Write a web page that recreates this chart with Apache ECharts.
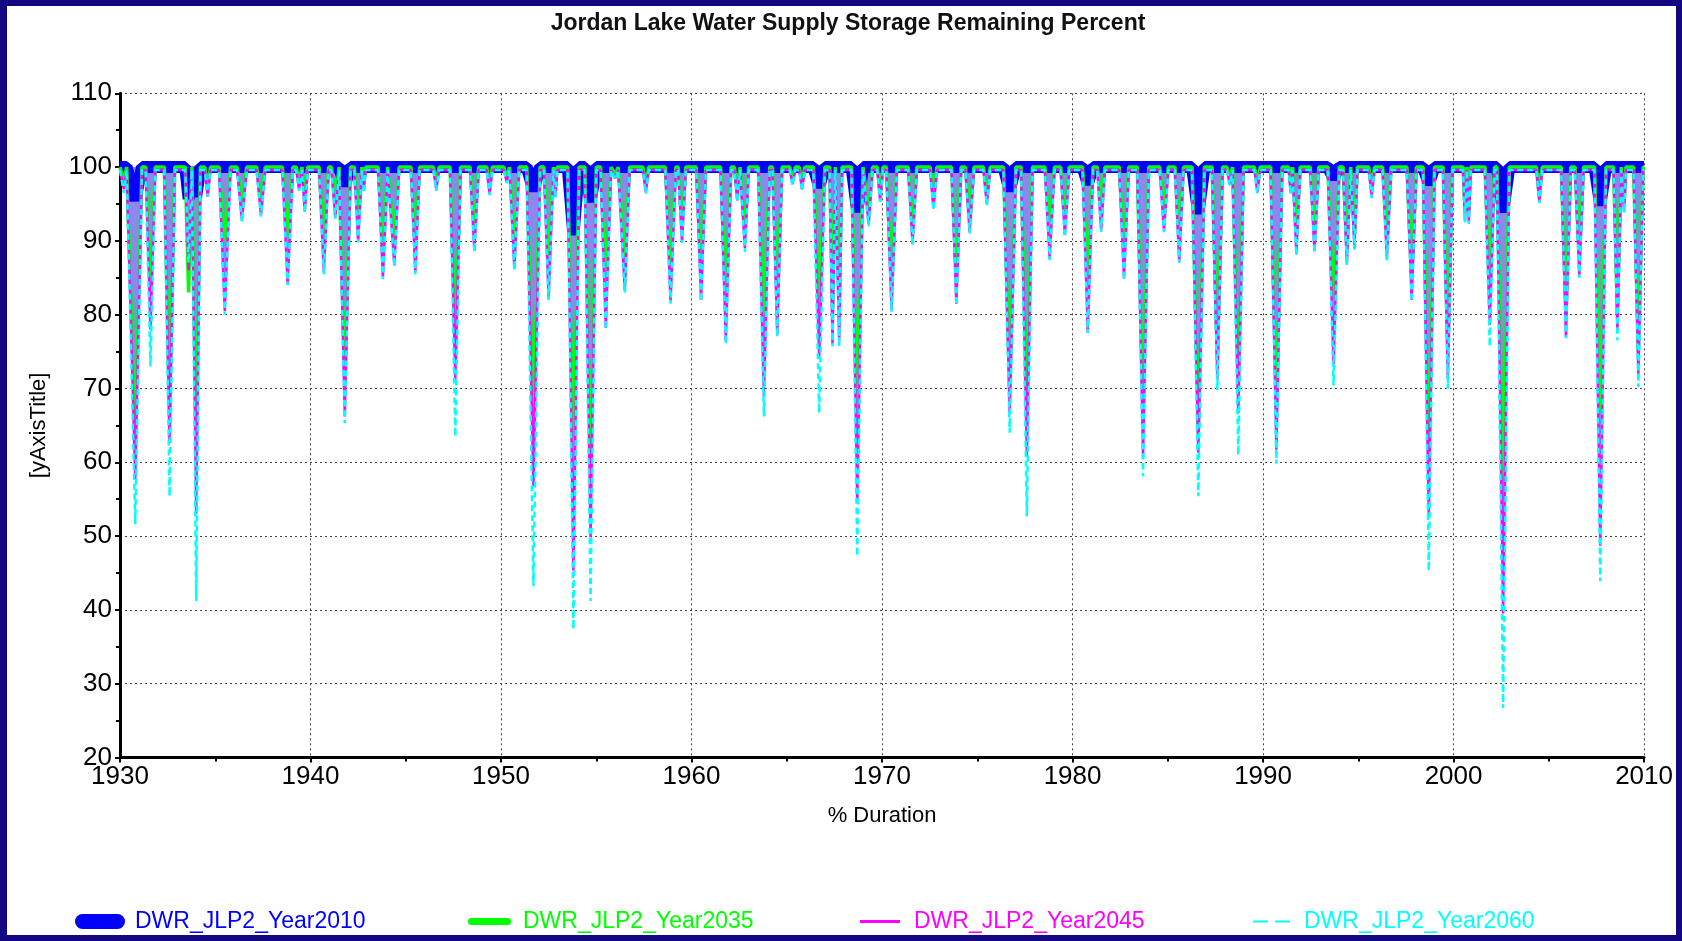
<!DOCTYPE html>
<html>
<head>
<meta charset="utf-8">
<script src="https://cdn.jsdelivr.net/npm/echarts@6/dist/echarts.min.js"></script>
<style>
  html, body { margin: 0; padding: 0; width: 1682px; height: 941px; background: #110882; overflow: hidden; }
  #chart { position: absolute; left: 7px; top: 6px; width: 1669px; height: 929px; background: #ffffff; }
</style>
</head>
<body>
<div id="chart"></div>
<script>
// Year of the lowest storage in each drawdown, and how long (years) the drawdown lasts
const dipYear = [
  1930.2, 1930.8, 1931.6, 1932.6, 1933.6, 1934.0, 1934.6, 1935.5, 1936.4, 1937.4,
  1938.8, 1939.4, 1939.7, 1940.7, 1941.3, 1941.8, 1942.5, 1942.8, 1943.8, 1944.4,
  1945.5, 1946.6, 1947.6, 1948.6, 1949.4, 1950.3, 1950.7, 1951.7, 1952.5, 1952.85,
  1953.8, 1954.7, 1955.5, 1956.0, 1956.5, 1957.6, 1958.9, 1959.5, 1960.5, 1961.8,
  1962.4, 1962.8, 1963.8, 1964.5, 1965.3, 1965.8, 1966.7, 1967.4, 1967.75, 1968.7,
  1969.3, 1969.9, 1970.5, 1971.6, 1972.7, 1973.9, 1974.6, 1975.5, 1976.7, 1977.6,
  1978.8, 1979.6, 1980.8, 1981.5, 1982.7, 1983.7, 1984.8, 1985.6, 1986.6, 1987.6,
  1988.25, 1988.7, 1989.7, 1990.7, 1991.45, 1991.75, 1992.7, 1993.7, 1994.4, 1994.8,
  1995.7, 1996.5, 1997.8, 1998.7, 1999.7, 2000.6, 2000.8, 2001.9, 2002.6, 2004.5,
  2005.9, 2006.6, 2007.7, 2008.6, 2008.95, 2009.7
];
const dipSpan = [
  0.3, 0.7, 0.5, 0.55, 0.35, 0.44, 0.3, 0.6, 0.5, 0.45,
  0.55, 0.3, 0.3, 0.5, 0.4, 0.6, 0.4, 0.2, 0.5, 0.5,
  0.45, 0.3, 0.55, 0.45, 0.3, 0.3, 0.5, 0.7, 0.5, 0.2,
  0.6, 0.6, 0.55, 0.3, 0.5, 0.3, 0.55, 0.4, 0.5, 0.55,
  0.3, 0.4, 0.6, 0.5, 0.3, 0.3, 0.6, 0.3, 0.3, 0.6,
  0.4, 0.3, 0.55, 0.45, 0.35, 0.5, 0.45, 0.35, 0.65, 0.6,
  0.5, 0.45, 0.55, 0.4, 0.5, 0.6, 0.45, 0.45, 0.65, 0.55,
  0.3, 0.55, 0.3, 0.6, 0.2, 0.4, 0.45, 0.6, 0.4, 0.3,
  0.3, 0.45, 0.5, 0.6, 0.5, 0.2, 0.2, 0.5, 0.65, 0.3,
  0.5, 0.45, 0.6, 0.4, 0.2, 0.5
];

// Lowest storage remaining (%) reached in each drawdown, per scenario
const low2010 = [
  100, 95.5, 100, 100, 95.7, 96, 100, 100, 100, 100,
  100, 100, 100, 100, 100, 97.5, 100, 100, 100, 100,
  100, 100, 100, 100, 100, 100, 100, 96.8, 100, 100,
  90.8, 95.3, 100, 100, 100, 100, 100, 100, 100, 100,
  100, 100, 100, 100, 100, 100, 97.3, 100, 100, 93.9,
  100, 100, 100, 100, 100, 100, 100, 100, 96.8, 100,
  100, 100, 97.7, 100, 100, 100, 100, 100, 93.7, 100,
  100, 100, 100, 100, 100, 100, 100, 98.5, 100, 100,
  100, 100, 100, 97.7, 100, 100, 100, 100, 93.9, 100,
  100, 100, 94.8, 100, 100, 100
];
const low2035 = [
  98, 63.5, 85, 66, 83, 62, 97, 90, 95, 95.5,
  90, 98, 96, 90, 95, 70.7, 93, 98, 89, 90,
  89, 98, 75, 92, 97.5, 98.5, 90, 66, 88, 97,
  59, 59.5, 84, 99, 88, 97.5, 87, 92, 86, 82,
  96.5, 91, 80, 82, 98.5, 98, 82, 81, 81, 65,
  94, 96.5, 84, 92, 95.5, 85, 93, 96, 70, 68,
  91, 93, 84, 95, 89, 67, 94, 90, 64, 74,
  98.5, 70, 97.5, 67.5, 97.5, 91, 91, 79, 89, 91,
  97, 90, 85, 59.8, 75, 94, 94, 82, 57.9, 96,
  81, 88, 67, 80, 95, 75
];
const low2045 = [
  97, 57.7, 78, 63, 86, 53, 96, 80.5, 92.8, 93.5,
  84.2, 97, 94, 85.8, 93.2, 66.2, 90, 97, 85, 86.7,
  85.8, 97, 71.2, 88.7, 96.4, 98, 86.3, 56.8, 82.2, 96,
  45.3, 49.8, 78.2, 98.5, 83.3, 96.6, 81.8, 89.9, 82, 76.4,
  95.5, 89, 69, 77.3, 97.7, 97, 74.3, 76, 76.5, 54.5,
  92.3, 95.5, 80.6, 89.6, 94.4, 81.5, 91.2, 95, 66.7, 60.8,
  87.6, 90.8, 77.7, 91.4, 84.9, 61, 91.4, 87.2, 61.3, 71.2,
  97.7, 66.7, 96.6, 61.7, 96.5, 88.3, 88.6, 73.3, 86.9, 89,
  96, 87.6, 82, 52.6, 71.4, 92.7, 92.5, 78.6, 39.5, 95.3,
  77, 85.2, 48.7, 78, 94, 71.9
];
const low2060 = [
  96.5, 51.6, 73, 55.4, 87, 41.2, 96, 80, 92.6, 93.3,
  84, 96.8, 93.8, 85.5, 93, 65.3, 89.8, 96.5, 84.8, 86.5,
  85.5, 96.8, 63.5, 88.5, 96.2, 97.8, 86, 43.2, 82, 95.8,
  37.4, 41.2, 78, 98.3, 83, 96.4, 81.5, 89.7, 81.8, 76,
  95.3, 88.5, 66.2, 77, 97.5, 96.8, 66.7, 75.7, 75.7, 47.3,
  92, 95.3, 80.4, 89.4, 94.2, 81.3, 91, 94.8, 64, 52.7,
  87.4, 90.5, 77.5, 91.2, 84.7, 58.1, 91.2, 87, 55.4, 69.8,
  97.5, 61, 96.4, 59.8, 96.3, 88, 88.4, 70.4, 86.7, 88.8,
  95.8, 87.4, 81.8, 45.3, 70, 92.5, 92.3, 75.7, 26.7, 95.1,
  76.8, 85, 43.9, 76.5, 93.8, 70.2
];

// Storage level between drawdowns, per scenario
const fullLevel = [100, 100, 99.6, 99.6];

const seriesNames = ['DWR_JLP2_Year2010', 'DWR_JLP2_Year2035', 'DWR_JLP2_Year2045', 'DWR_JLP2_Year2060'];
const seriesColors = ['#0000ff', '#00ff00', '#ff00ff', '#00ffff'];
const yearTicks = [1930, 2010];
const pctTicks = [20, 110];

function buildTrace(lows, base) {
  const pts = [[yearTicks[0], base]];
  for (let i = 0; i < dipYear.length; i++) {
    const h = dipSpan[i] / 2;
    pts.push([dipYear[i] - h, base], [dipYear[i], lows[i]], [dipYear[i] + h, base]);
  }
  pts.push([yearTicks[1], base]);
  return pts;
}

const lows = [low2010, low2035, low2045, low2060];
const widths = [12, 3.5, 2.5, 2.5];
const dashes = ['solid', 'solid', 'solid', [6, 4]];

const FONT = 'Liberation Sans, Arial, sans-serif';

const legendIcons = [
  'path://M7.5,0H42.5A7.5,7.5,0,0,1,42.5,15H7.5A7.5,7.5,0,0,1,7.5,0Z',
  'path://M3.5,0H39.5A3.5,3.5,0,0,1,39.5,7H3.5A3.5,3.5,0,0,1,3.5,0Z',
  'rect',
  'path://M0,0H15V2H0Z M22,0H37V2H22Z'
];
const legendSizes = [[50, 15], [43, 7], [40, 3], [37, 2]];
const legendLeft = [63, 456, 848, 1241];
const legendPad = [5, 7, 9, 9];

const chart = echarts.init(document.getElementById('chart'), null, { renderer: 'canvas' });

const axisCommon = {
  axisLine: { show: true, onZero: false, lineStyle: { color: '#000', width: 3 } },
  axisTick: { show: true, length: 5, lineStyle: { color: '#000', width: 2 } },
  minorTick: { show: true, splitNumber: 2, length: 4, lineStyle: { color: '#000', width: 2 } },
  splitLine: { show: true, lineStyle: { color: '#444', width: 1, type: [2, 3] } },
  axisLabel: { color: '#000', fontSize: 26, fontFamily: FONT }
};

// Shaded drawdown band of the 2045 scenario, drawn beneath all traces
const drawdownBand = {
  name: 'DWR_JLP2_Year2045 drawdown',
  type: 'line',
  data: buildTrace(low2045, fullLevel[2]),
  showSymbol: false,
  symbol: 'none',
  silent: true,
  z: 1,
  lineStyle: { width: 0 },
  areaStyle: { color: 'rgb(140,136,238)', opacity: 1, origin: 100 }
};

const traces = seriesNames.map((name, i) => ({
  name: name,
  type: 'line',
  data: buildTrace(lows[i], fullLevel[i]),
  color: seriesColors[i],
  showSymbol: false,
  symbol: 'none',
  z: 2 + i,
  lineStyle: { color: seriesColors[i], width: widths[i], type: dashes[i], join: 'bevel' }
}));

chart.setOption({
  animation: false,
  backgroundColor: '#ffffff',
  title: {
    text: 'Jordan Lake Water Supply Storage Remaining Percent',
    left: 836,
    top: 1,
    textAlign: 'center',
    textStyle: { fontSize: 23, fontWeight: 'bold', color: '#111', fontFamily: FONT }
  },
  grid: { left: 113, right: 30, top: 87.3, bottom: 177.5, containLabel: false },
  xAxis: Object.assign({}, axisCommon, {
    type: 'value',
    min: yearTicks[0],
    max: yearTicks[1],
    interval: 10,
    name: '% Duration',
    nameLocation: 'middle',
    nameGap: 47,
    nameTextStyle: { fontSize: 22, color: '#000', fontFamily: FONT },
    axisLabel: Object.assign({}, axisCommon.axisLabel, { margin: 6, formatter: v => String(v) })
  }),
  yAxis: Object.assign({}, axisCommon, {
    type: 'value',
    min: pctTicks[0],
    max: pctTicks[1],
    interval: 10,
    name: '[yAxisTitle]',
    nameLocation: 'middle',
    nameGap: 70,
    nameTextStyle: { fontSize: 22, color: '#000', fontFamily: FONT },
    axisLabel: Object.assign({}, axisCommon.axisLabel, { margin: 8 })
  }),
  legend: seriesNames.map((name, i) => ({
    data: [name],
    left: legendLeft[i],
    top: 899,
    selectedMode: false,
    icon: legendIcons[i],
    itemWidth: legendSizes[i][0],
    itemHeight: legendSizes[i][1],
    itemStyle: { color: seriesColors[i], borderWidth: 0 },
    textStyle: { color: seriesColors[i], fontSize: 23, fontFamily: FONT, padding: [0, 0, 0, legendPad[i]] }
  })),
  series: [drawdownBand].concat(traces)
});
</script>
</body>
</html>
